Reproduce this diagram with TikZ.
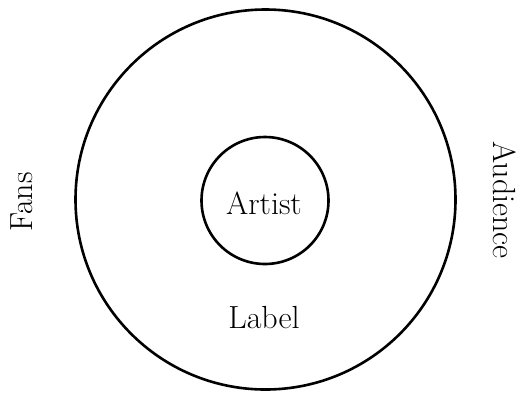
\documentclass[tikz,border=0pt]{standalone}
\begin{document}
\begin{tikzpicture}[x=1pt,y=-1pt,
  ring/.style={draw=black, line width=2.6pt, circle, inner sep=0pt},
  txt/.style={font=\fontsize{32}{38}\selectfont, text=black, inner sep=0pt}]
\useasboundingbox (0,0) rectangle (519,392);
\node[ring, minimum size=380pt] (outer) at (265.5,199.5) {};
\node[ring, minimum size=127pt] (artistc) at (265,200.5) {};
\node[txt] (artist) at (264,203) {Artist};
\node[txt] (label) at (264,318) {Label};
\node[txt, rotate=90] (fans) at (22,202) {Fans};
\node[txt, rotate=-90] (aud) at (505,200) {Audience};
\end{tikzpicture}
\end{document}
